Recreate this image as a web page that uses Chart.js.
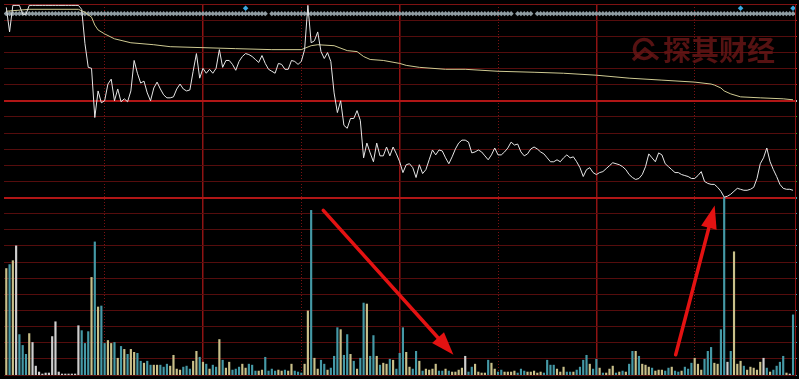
<!DOCTYPE html>
<html>
<head>
<meta charset="utf-8">
<script src="https://cdn.jsdelivr.net/npm/chart.js@4/dist/chart.umd.min.js"></script>
<style>
  html, body { margin: 0; padding: 0; background: #000; }
  #wrap { width: 799px; height: 379px; }
</style>
</head>
<body>
<div id="wrap"><canvas id="fenshi" width="799" height="379"></canvas></div>
<script>
// ─────────────────────────────────────────────────────────────
// 分时图 – price / average / volume, one chart, two panes
// ─────────────────────────────────────────────────────────────

// ── DATA ─────────────────────────────────────────────────────
const prevClose = 9.84;

// last price, one per minute (0 = 09:30 … 240 = 15:00)
const priceByMinute = [
    10.79, 10.54, 10.81, 10.81, 10.81, 10.72, 10.72, 10.81, 10.81, 10.81,
    10.81, 10.81, 10.81, 10.81, 10.81, 10.81, 10.81, 10.81, 10.81, 10.81,
    10.81, 10.81, 10.81, 10.77, 10.42, 10.18, 10.17, 9.67, 9.94, 9.82,
    9.84, 10.01, 10.06, 9.84, 9.96, 9.83, 9.86, 9.83, 9.94, 10.25,
    10.12, 10.02, 10.04, 9.92, 9.84, 9.97, 10.03, 9.96, 9.90, 9.87,
    9.87, 9.88, 9.96, 10.01, 9.96, 9.94, 9.95, 10.14, 10.32, 10.07,
    10.17, 10.12, 10.16, 10.12, 10.17, 10.36, 10.18, 10.25, 10.25, 10.21,
    10.15, 10.24, 10.29, 10.32, 10.31, 10.29, 10.26, 10.23, 10.30, 10.22,
    10.16, 10.14, 10.12, 10.22, 10.21, 10.16, 10.16, 10.25, 10.24, 10.21,
    10.24, 10.36, 10.81, 10.43, 10.45, 10.54, 10.34, 10.27, 10.33, 10.24,
    9.92, 9.72, 9.84, 9.59, 9.56, 9.66, 9.66, 9.74, 9.64, 9.26,
    9.41, 9.31, 9.22, 9.41, 9.28, 9.28, 9.37, 9.28, 9.37, 9.30,
    9.22, 9.11, 9.19, 9.20, 9.16, 9.06, 9.19, 9.10, 9.14, 9.24,
    9.34, 9.29, 9.34, 9.33, 9.26, 9.20, 9.27, 9.35, 9.41, 9.44,
    9.44, 9.42, 9.31, 9.32, 9.34, 9.32, 9.28, 9.24, 9.29, 9.36,
    9.29, 9.29, 9.32, 9.36, 9.42, 9.39, 9.40, 9.32, 9.28, 9.30,
    9.35, 9.37, 9.35, 9.32, 9.30, 9.26, 9.22, 9.22, 9.24, 9.22,
    9.26, 9.29, 9.26, 9.27, 9.22, 9.16, 9.07, 9.14, 9.16, 9.11,
    9.09, 9.11, 9.12, 9.15, 9.18, 9.21, 9.20, 9.19, 9.17, 9.14,
    9.09, 9.06, 9.04, 9.05, 9.09, 9.17, 9.30, 9.26, 9.22, 9.31,
    9.29, 9.20, 9.17, 9.14, 9.11, 9.11, 9.09, 9.08, 9.07, 9.05,
    9.05, 9.08, 9.12, 9.02, 9.00, 8.99, 8.99, 8.96, 8.92, 8.86,
    8.87, 8.89, 8.92, 8.95, 8.94, 8.93, 8.93, 8.94, 8.96, 9.05,
    9.20, 9.26, 9.36, 9.22, 9.14, 9.07, 8.99, 8.95, 8.94, 8.94, 8.93
];

// average price line (sampled where it bends)
const avgMinutes = [0, 7, 22, 24, 26, 27, 28, 30, 33, 38, 45, 50, 60, 70, 81, 90, 93, 95, 100, 104,
    107, 109, 111, 115, 120, 122, 126, 134, 140, 150, 161, 170, 180, 190, 200, 210, 215, 216, 218, 219,
    221, 224, 230, 237, 240];
const avgPrices = [10.75, 10.77, 10.77, 10.74, 10.69, 10.61, 10.56, 10.52, 10.47, 10.43, 10.41, 10.39, 10.38, 10.37, 10.36, 10.36, 10.40, 10.41, 10.40, 10.35,
    10.34, 10.29, 10.26, 10.25, 10.22, 10.20, 10.18, 10.16, 10.16, 10.14, 10.13, 10.12, 10.10, 10.07, 10.05, 10.03, 10.01, 10.00, 9.97, 9.94,
    9.91, 9.88, 9.87, 9.86, 9.85];

// volume per minute (百手)
const volumeByMinute = [
    108, 112, 116, 131, 41, 30, 21, 42, 33, 9,
    3, 1, 2, 2, 39, 54, 3, 1, 1, 1,
    1, 1, 50, 45, 32, 44, 99, 135, 69, 70,
    32, 35, 32, 33, 17, 29, 26, 21, 26, 23,
    22, 14, 12, 14, 10, 10, 10, 10, 8, 11,
    9, 20, 6, 5, 8, 9, 6, 14, 24, 18,
    13, 11, 6, 10, 8, 36, 15, 7, 13, 5,
    6, 8, 11, 7, 11, 10, 4, 4, 5, 18,
    4, 6, 4, 5, 4, 5, 4, 11, 4, 3,
    2, 11, 65, 167, 17, 6, 15, 11, 5, 7,
    19, 48, 46, 20, 41, 21, 14, 6, 17, 73,
    72, 19, 40, 19, 10, 12, 11, 16, 15, 6,
    22, 48, 23, 8, 6, 24, 14, 4, 6, 5,
    6, 11, 4, 4, 6, 4, 3, 3, 5, 7,
    19, 3, 8, 11, 3, 2, 2, 15, 12, 6,
    3, 5, 3, 3, 3, 4, 2, 6, 4, 3,
    3, 4, 2, 3, 2, 15, 10, 10, 6, 3,
    8, 3, 3, 3, 5, 8, 15, 20, 11, 6,
    16, 7, 2, 2, 6, 9, 2, 3, 4, 3,
    11, 24, 24, 19, 11, 10, 8, 7, 4, 5,
    5, 4, 7, 8, 4, 3, 4, 8, 6, 12,
    17, 11, 5, 16, 24, 28, 12, 11, 46, 180,
    13, 24, 125, 11, 14, 9, 5, 8, 7, 5,
    13, 17, 7, 3, 5, 9, 13, 19, 2, 1, 61
];

// 1 = up tick, -1 = down tick, 0 = unchanged
const volumeDir = [
    1, -1, 1, 0, -1, -1, -1, 1, 0, 0,
    0, 0, 0, 0, 0, 0, 0, 0, 0, 0,
    0, 0, 0, -1, -1, -1, 1, -1, 1, -1,
    -1, 1, 1, -1, 1, -1, 1, -1, 1, 1,
    -1, -1, 1, -1, -1, 1, 1, -1, -1, -1,
    1, 1, 1, 1, -1, -1, -1, 1, 1, -1,
    1, -1, 1, -1, -1, 1, -1, 1, 1, -1,
    -1, -1, 1, 1, -1, -1, -1, 1, 1, -1,
    -1, -1, -1, 1, 1, -1, 1, 1, -1, -1,
    -1, 1, 1, -1, 1, 1, -1, -1, 1, -1,
    -1, -1, 1, -1, -1, 1, -1, 1, -1, -1,
    1, -1, -1, 1, -1, 1, 1, -1, 1, -1,
    -1, -1, 1, 1, -1, -1, 1, -1, 1, 1,
    1, 1, -1, -1, 1, -1, 1, 1, 1, 1,
    0, -1, -1, 1, 1, 1, 1, -1, 1, 1,
    -1, -1, 1, 1, 1, 1, -1, -1, -1, 1,
    1, 1, 1, 1, -1, -1, -1, -1, 1, 1,
    1, -1, -1, 1, -1, -1, -1, -1, 1, -1,
    -1, 1, -1, 1, 1, 1, -1, 1, -1, 1,
    -1, -1, 1, -1, 1, 1, 1, -1, 1, 1,
    1, -1, -1, 1, -1, -1, 1, -1, -1, -1,
    1, 1, 1, -1, -1, -1, 1, 1, -1, -1,
    0, -1, 1, 1, 1, -1, 1, 1, 1, 1,
    1, 0, -1, 1, -1, -1, -1, -1, 1, 0, -1
];

// marker row along the top: minutes without a mark, and the blue signal minutes
const markGapMinutes = [80, 155, 161];
const signalMinutes = [73, 224, 240];

// vertical time grid (minutes from open)
const hourGridMinutes = [60, 120, 180];
const halfHourGridMinutes = [30, 90, 150, 210];

// hand-drawn arrows, in (minute, volume) coordinates
const arrowNotes = [
    { from: [96.7, 167], to: [136.4, 20.5] },
    { from: [204.2, 20.5], to: [216.1, 172] }
];

// ── SCALE SETTINGS ────────────────────────────────────────────
const ROWS = 23;            // grid rows over the whole canvas
const PRICE_ROWS = 12;      // rows used by the price pane
const limitUp = prevClose * 1.1;
const limitDown = prevClose * 0.9;
const priceAxisMin = limitUp - (limitUp - limitDown) * ROWS / PRICE_ROWS;
const volPaneMax = 180;
const volAxisMax = volPaneMax * ROWS / (ROWS - PRICE_ROWS);
const xMin = -0.7, xMax = 240.6;

const BAR_COLORS = { '1': '#c9c08a', '-1': '#4599a6', '0': '#cfcfcf' };

const minutes = priceByMinute.map((_, i) => i);
const pricePts = minutes.map(i => ({ x: i, y: priceByMinute[i] }));
const avgPts = avgMinutes.map((m, i) => ({ x: m, y: avgPrices[i] }));
const volPts = volumeByMinute.map((v, i) => ({ x: i, y: v }));
const volColors = volumeDir.map(d => BAR_COLORS[String(d)]);
const markPts = minutes.filter(m => !markGapMinutes.includes(m)).map(m => ({ x: m, y: 0.6 }));
const signalPts = signalMinutes.map(m => ({ x: m, y: 0.26 }));

// ── PLUGINS ───────────────────────────────────────────────────
const watermarkPlugin = {
    id: 'watermark',
    beforeDatasetsDraw(chart) {
        const { ctx, chartArea } = chart;
        const cx = chartArea.right - 151, cy = chartArea.top + 45;
        ctx.save();
        ctx.strokeStyle = 'rgba(105,22,22,0.82)';
        ctx.fillStyle = 'rgba(105,22,22,0.82)';
        ctx.lineWidth = 3.5;
        ctx.beginPath();
        ctx.arc(cx, cy, 9.5, Math.PI * 0.2, Math.PI * 1.9);
        ctx.stroke();
        ctx.beginPath();
        ctx.moveTo(cx - 11, cy + 11);
        ctx.lineTo(cx + 1, cy);
        ctx.lineTo(cx + 14, cy + 10);
        ctx.stroke();
        ctx.font = 'bold 28px "Noto Sans CJK SC"';
        ctx.textBaseline = 'middle';
        ctx.fillText('探其财经', cx + 19, cy + 1);
        ctx.restore();
    }
};

const arrowPlugin = {
    id: 'arrows',
    afterDatasetsDraw(chart) {
        const { ctx, scales } = chart;
        ctx.save();
        ctx.strokeStyle = '#e31212';
        ctx.fillStyle = '#e31212';
        ctx.lineWidth = 3.5;
        ctx.lineCap = 'round';
        arrowNotes.forEach(a => {
            const x1 = scales.x.getPixelForValue(a.from[0]), y1 = scales.vol.getPixelForValue(a.from[1]);
            const x2 = scales.x.getPixelForValue(a.to[0]), y2 = scales.vol.getPixelForValue(a.to[1]);
            const ang = Math.atan2(y2 - y1, x2 - x1);
            const headLen = 23, headHalf = 8;
            const bx = x2 - headLen * Math.cos(ang), by = y2 - headLen * Math.sin(ang);
            ctx.beginPath();
            ctx.moveTo(x1, y1);
            ctx.lineTo(bx, by);
            ctx.stroke();
            ctx.beginPath();
            ctx.moveTo(x2, y2);
            ctx.lineTo(bx + headHalf * Math.sin(ang), by - headHalf * Math.cos(ang));
            ctx.lineTo(bx - headHalf * Math.sin(ang), by + headHalf * Math.cos(ang));
            ctx.closePath();
            ctx.fill();
        });
        ctx.restore();
    }
};

// ── CHART ─────────────────────────────────────────────────────
function rowColor(v) {
    if (v === 6 || v === 12) return '#b01616';
    if (v === 0) return '#7e1212';
    return '#550d0d';
}
function tickColor(v) {
    if (v < 6) return '#c42020';
    if (v === 6) return '#cccccc';
    if (v < 12) return '#22a822';
    return '#3a9aa8';
}

new Chart(document.getElementById('fenshi'), {
    type: 'line',
    data: {
        datasets: [
            { label: '价格', data: pricePts, xAxisID: 'x', yAxisID: 'price', borderColor: '#e6e6e6', borderWidth: 1, pointRadius: 0, tension: 0, order: 0 },
            { label: '均价', data: avgPts, xAxisID: 'x', yAxisID: 'price', borderColor: '#cfca92', borderWidth: 1, pointRadius: 0, tension: 0, order: 1 },
            { label: 'mark', data: markPts, xAxisID: 'x', yAxisID: 'sig', showLine: false, pointStyle: 'rectRot', pointRadius: 2.6, pointBorderWidth: 0, pointBackgroundColor: '#8f9ca2', order: 2 },
            { label: 'signal', data: signalPts, xAxisID: 'x', yAxisID: 'sig', showLine: false, pointStyle: 'rectRot', pointRadius: 2.8, pointBorderWidth: 0, pointBackgroundColor: '#3aa8e0', order: 2 },
            { type: 'bar', label: '成交量', data: volPts, xAxisID: 'x', yAxisID: 'vol', backgroundColor: volColors, borderWidth: 0, barThickness: 1.5, order: 3 }
        ]
    },
    options: {
        responsive: false,
        animation: false,
        events: [],
        layout: { padding: { left: 0, right: 0, top: 0, bottom: 2 } },
        plugins: { legend: { display: false }, tooltip: { enabled: false } },
        scales: {
            x: {
                type: 'linear', position: 'bottom', min: xMin, max: xMax, offset: false,
                afterBuildTicks: ax => { ax.ticks = hourGridMinutes.map(v => ({ value: v })); },
                ticks: { display: false },
                grid: { color: '#8e1313', lineWidth: 1.5, drawTicks: false, offset: false },
                border: { display: false }
            },
            x2: {
                type: 'linear', position: 'top', min: xMin, max: xMax, offset: false,
                afterBuildTicks: ax => { ax.ticks = halfHourGridMinutes.map(v => ({ value: v })); },
                ticks: { display: false },
                grid: { color: '#7a1212', lineWidth: 1, drawTicks: false, offset: false },
                border: { display: false, dash: [1, 2] }
            },
            g: {
                type: 'linear', position: 'right', min: 0, max: ROWS, reverse: true, offset: false,
                afterBuildTicks: ax => { ax.ticks = Array.from({ length: ROWS + 1 }, (_, i) => ({ value: i })); },
                ticks: { display: false },
                grid: {
                    color: c => rowColor(c.tick.value),
                    lineWidth: c => (c.tick.value === 6 || c.tick.value === 12) ? 2 : 1,
                    tickLength: 2,
                    tickColor: c => tickColor(c.tick.value),
                    offset: false
                },
                border: { display: true, color: '#8e1313', width: 1 }
            },
            price: { type: 'linear', display: false, min: priceAxisMin, max: limitUp },
            vol: { type: 'linear', display: false, min: 0, max: volAxisMax },
            sig: { type: 'linear', display: false, min: 0, max: ROWS, reverse: true }
        }
    },
    plugins: [watermarkPlugin, arrowPlugin]
});
</script>
</body>
</html>
